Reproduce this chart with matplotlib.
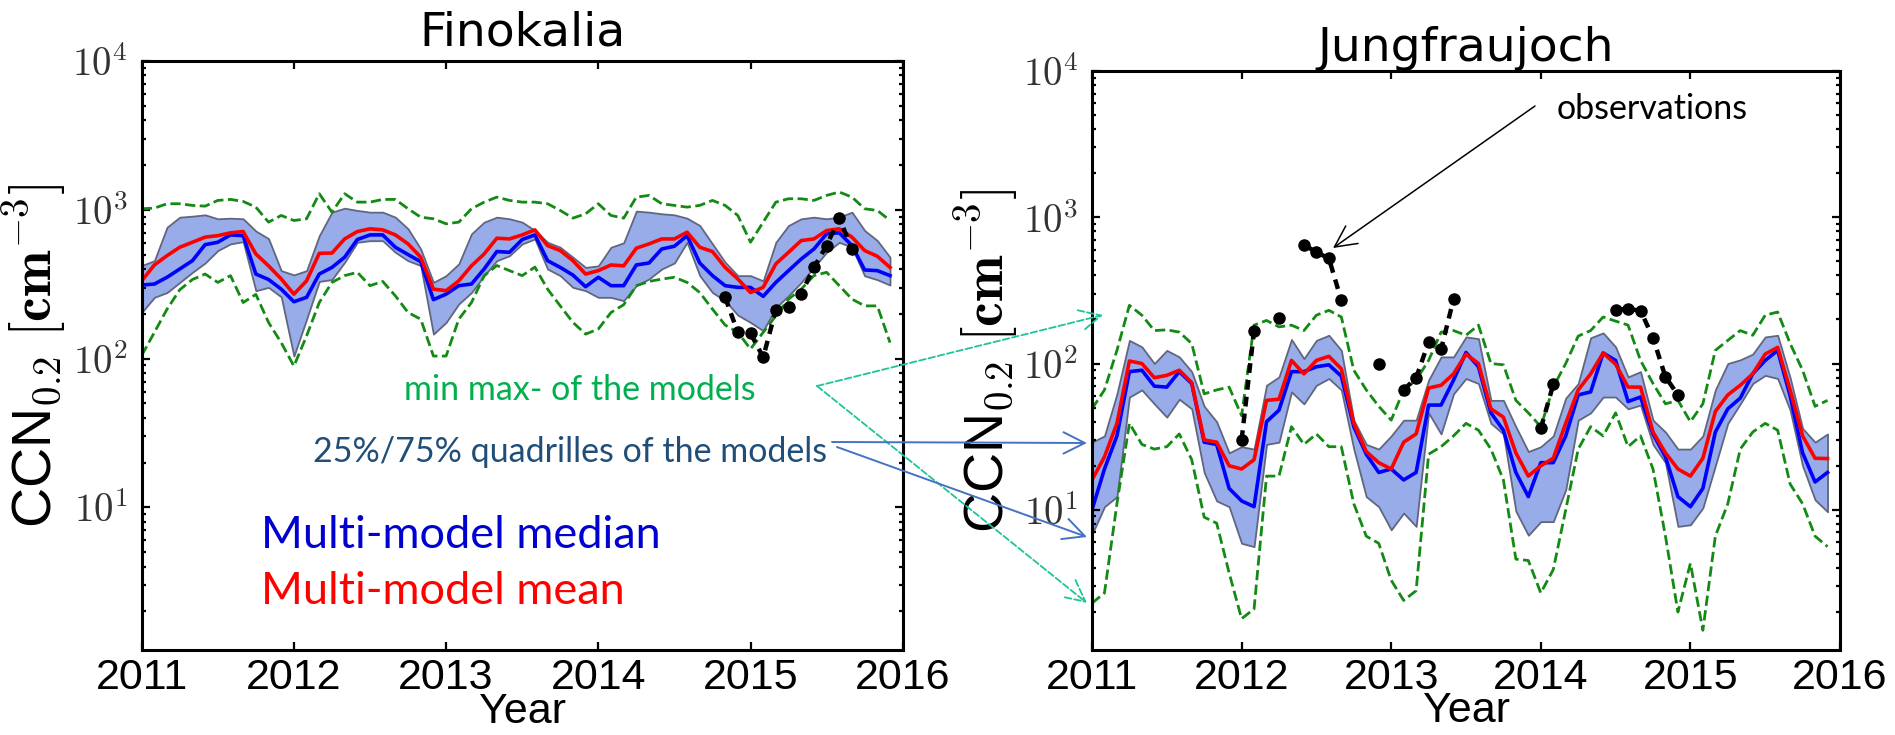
import numpy as np
import matplotlib
matplotlib.use('Agg')
import matplotlib.pyplot as plt
from matplotlib.patches import FancyArrowPatch
from matplotlib.ticker import FuncFormatter, LogLocator

plt.rcParams['mathtext.fontset'] = 'cm'

W, H = 1895, 735

# monthly values, Jan 2011 .. Dec 2015
months = 2011 + np.arange(60) / 12.0
nan = np.nan

# ---- Finokalia ----
fin_mean = [333, 426, 492, 560, 605, 655, 670, 700, 714, 505, 420, 343,
            271, 333, 510, 512, 637, 714, 745, 733, 678, 590, 480, 293,
            286, 333, 420, 505, 644, 637, 678, 733, 575, 532, 455, 370,
            390, 426, 420, 552, 590, 637, 637, 707, 560, 524, 410, 343,
            278, 301, 433, 518, 621, 637, 725, 745, 655, 532, 487, 410]
fin_median = [312, 317, 352, 400, 455, 583, 605, 678, 670, 370, 340, 293,
              241, 258, 370, 410, 480, 631, 678, 678, 560, 500, 448, 249,
              271, 309, 317, 400, 524, 518, 631, 678, 455, 410, 364, 304,
              352, 309, 309, 426, 439, 545, 569, 670, 439, 361, 309, 301,
              301, 262, 325, 390, 467, 545, 689, 700, 575, 394, 390, 361]
fin_q75 = [422, 455, 764, 892, 906, 925, 870, 878, 870, 720, 640, 390,
           365, 390, 670, 964, 1025, 990, 964, 964, 892, 745, 545, 325,
           361, 433, 689, 826, 892, 870, 826, 726, 605, 560, 480, 410,
           420, 560, 600, 980, 964, 940, 925, 878, 784, 590, 444, 361,
           361, 333, 605, 784, 870, 892, 870, 892, 964, 726, 621, 480]
fin_q25 = [204, 258, 278, 325, 380, 439, 532, 590, 611, 286, 301, 260,
           104, 184, 330, 340, 444, 605, 620, 620, 518, 455, 422, 146,
           175, 233, 278, 361, 455, 492, 590, 637, 400, 361, 301, 286,
           258, 258, 245, 309, 343, 400, 439, 605, 361, 278, 245, 196,
           175, 154, 220, 265, 325, 411, 518, 605, 560, 360, 339, 312]
fin_max = [1016, 1026, 1098, 1098, 1070, 1058, 1156, 1174, 1138, 1042, 826, 916,
           847, 870, 1282, 964, 1282, 1126, 1126, 1174, 1174, 1016, 892, 870,
           805, 826, 1016, 1126, 1217, 1156, 1126, 1126, 1098, 990, 879, 940,
           1098, 916, 879, 1217, 1249, 1098, 1070, 1042, 1070, 1156, 1070, 916,
           605, 826, 1126, 1186, 1186, 1156, 1249, 1316, 1217, 1016, 990, 847]
fin_min = [105, 150, 215, 290, 340, 370, 325, 361, 238, 270, 175, 128,
           89, 142, 238, 325, 361, 380, 309, 330, 264, 204, 184, 104,
           104, 184, 238, 361, 422, 390, 361, 412, 293, 226, 175, 146,
           158, 204, 230, 309, 330, 342, 352, 325, 278, 215, 168, 150,
           116, 150, 194, 251, 293, 361, 380, 309, 251, 226, 226, 128]
fin_obs = [nan] * 46 + [258, 150, 148, 102, 213, 221, 272, 410, 575, 880, 546] + [nan] * 3

# ---- Jungfraujoch ----
jfj_mean = [16, 23, 39, 104, 100, 80, 83, 90, 74, 30, 29, 20,
            19, 22, 56, 57, 105, 85, 105, 112, 92, 39, 25, 21,
            19, 29, 33, 68, 71, 85, 116, 100, 49, 43, 24.5, 17,
            20, 22.5, 39, 66, 85, 118, 99, 69, 69, 34, 24.5, 19,
            17, 22.5, 47, 61, 71, 85, 116, 129, 66, 32, 22.5, 22.4]
jfj_median = [10, 19, 32, 88, 90, 70, 69, 88, 73, 29, 28, 14,
              11.5, 10.5, 40, 48, 88, 88, 95, 98, 82, 37, 24, 18,
              19, 16, 18, 52, 52, 77, 119, 95, 46, 35, 18, 12.3,
              21, 21, 32, 61, 64, 118, 105, 55, 59, 33, 23, 12.3,
              10.5, 14, 34, 49, 58, 85, 105, 123, 60, 24.5, 15.5, 18]
jfj_q75 = [29, 32, 62, 144, 130, 100, 123, 111, 88, 51, 40, 24.5,
           27, 26, 71, 81, 146, 108, 144, 156, 123, 41, 28, 26,
           32, 41, 41, 77, 111, 111, 152, 148, 56, 56, 37, 25,
           27, 32, 58, 73, 150, 162, 130, 81, 88, 41, 34, 26,
           26, 32, 66, 100, 106, 116, 152, 156, 80, 36, 29, 33]
jfj_q25 = [6.8, 10.5, 12.3, 59, 66, 53, 43, 57, 49, 18, 11.5, 10.5,
           5.9, 5.6, 28, 29, 64, 53, 71, 79, 66, 26, 12.3, 10.5,
           7.3, 9.5, 7.7, 46, 33, 62, 79, 73, 39, 33, 9.8, 6.7,
           8.3, 8.3, 13.7, 41, 46, 59, 59, 49, 52, 28, 21, 7.7,
           7.9, 10.3, 20, 39, 53, 73, 83, 79, 48, 20, 11.7, 9.7]
jfj_max = [49, 66, 123, 250, 214, 168, 170, 164, 137, 62, 66, 69,
           44, 183, 197, 178, 183, 168, 214, 231, 208, 90, 66, 51,
           41, 66, 77, 105, 164, 168, 156, 183, 100, 98, 56, 46,
           37, 69, 100, 154, 168, 208, 195, 183, 105, 73, 53, 56,
           40, 53, 123, 144, 168, 156, 214, 225, 137, 90, 51, 56]
jfj_min = [2.3, 2.7, 11, 39, 28, 26, 27, 33, 22, 8.9, 8.1, 3.7,
           1.8, 2.1, 17, 17, 37, 28, 33, 27, 27, 11, 6.6, 5.9,
           3.3, 2.4, 2.8, 24, 27, 32, 39, 35, 26, 16, 4.6, 4.5,
           2.7, 3.9, 10, 26, 37, 32, 46, 27, 32, 19, 6.6, 2.0,
           4.3, 1.5, 6.6, 11, 26, 34, 39, 35, 15, 11, 6.6, 5.6]
jfj_obs = [nan] * 12 + [30, 168, nan, 205, nan, 650, 575, 525, 270, nan, nan, 100,
                        nan, 66, 80, 140, 125, 275] + [nan] * 6 + \
          [36, 72, nan, nan, nan, nan, 233, 236, 230, 150, 81, 61] + [nan] * 12

years = [2011, 2012, 2013, 2014, 2015, 2016]


def fig_xy(px, py):
    return (px / W, 1 - py / H)


def draw_panel(ax, title, mean, median, q25, q75, vmax, vmin, obs, title_y):
    ax.fill_between(months, q25, q75, facecolor='#98acea', edgecolor='#60667e', lw=1.3)
    ax.plot(months, vmax, '--', color='#138a13', lw=2.0)
    ax.plot(months, vmin, '--', color='#138a13', lw=2.0)
    ax.plot(months, median, color='#0000ff', lw=2.6)
    ax.plot(months, mean, color='#ff0000', lw=2.6)
    ax.plot(months, obs, color='k', ls='--', dashes=(2.2, 1.6), lw=3.2,
            marker='o', ms=8)

    ax.set_yscale('log')
    ax.set_ylim(1.1, 1e4)
    ax.set_xlim(2011, 2016)
    ax.set_xticks(years)
    ax.set_xticklabels([str(y) for y in years], fontsize=31, family='Liberation Sans')
    ax.yaxis.set_major_locator(LogLocator(base=10))
    ax.yaxis.set_minor_locator(LogLocator(base=10, subs=np.arange(2, 10)))
    ax.yaxis.set_major_formatter(FuncFormatter(lambda v, p: r'$10^{%d}$' % round(np.log10(v))))
    ax.tick_params(axis='y', which='major', labelsize=28, labelcolor='#333333', pad=10)
    ax.tick_params(which='both', direction='in', top=True, right=True, width=1.6)
    ax.tick_params(which='major', length=6)
    ax.tick_params(which='minor', length=3)
    ax.tick_params(axis='x', pad=6)
    for s in ax.spines.values():
        s.set_linewidth(2.2)

    ax.set_ylabel(r'CCN$_{0.2}$ $[\mathbf{cm^{-3}}]$', fontsize=40, family='Liberation Sans')
    ax.yaxis.set_label_coords(-0.094, 0.5)
    ax.set_xlabel('Year', fontsize=31, family='Liberation Sans')
    ax.xaxis.set_label_coords(0.5, -0.105)
    ax.xaxis.label.set_verticalalignment('center')
    ax.text(0.5, title_y, title, transform=ax.transAxes, ha='center', va='baseline',
            fontsize=34, family='DejaVu Sans')


fig = plt.figure(figsize=(W / 100, H / 100), dpi=100)
ax1 = fig.add_axes([141.7 / W, 1 - 650 / H, 761 / W, 589 / H])
ax2 = fig.add_axes([1092 / W, 1 - 650 / H, 748 / W, 579 / H])

draw_panel(ax1, 'Finokalia', fin_mean, fin_median, fin_q25, fin_q75,
           fin_max, fin_min, fin_obs, 1.027)
draw_panel(ax2, 'Jungfraujoch', jfj_mean, jfj_median, jfj_q25, jfj_q75,
           jfj_max, jfj_min, jfj_obs, 1.017)

# explanatory labels
txt_font = 'Lato'
fig.text(*fig_xy(404, 390), 'min max- of the models', color='#00b050',
         fontsize=24.5, family=txt_font, va='center')
fig.text(*fig_xy(313, 452), '25%/75% quadrilles of the models', color='#1f4e79',
         fontsize=24.5, family=txt_font, va='center')
fig.text(*fig_xy(261, 535), 'Multi-model median', color='#0000d0',
         fontsize=32.5, family=txt_font, va='center')
fig.text(*fig_xy(261, 591), 'Multi-model mean', color='#ff0000',
         fontsize=32.5, family=txt_font, va='center')
fig.text(*fig_xy(1557, 109), 'observations', color='black',
         fontsize=24.5, family=txt_font, va='center')


def fig_arrow(p0, p1, color, ls='-', lw=1.4):
    arr = FancyArrowPatch(fig_xy(*p0), fig_xy(*p1), transform=fig.transFigure,
                          arrowstyle='->,head_length=0.7,head_width=0.35',
                          mutation_scale=22, color=color, lw=lw, ls=ls,
                          shrinkA=0, shrinkB=0)
    fig.add_artist(arr)


fig_arrow((817, 386), (1103, 315), '#1dc49a', ls='--', lw=1.3)
fig_arrow((817, 386), (1087, 603), '#1dc49a', ls='--', lw=1.3)
fig_arrow((832, 442), (1087, 443), '#4472c4')
fig_arrow((837, 447), (1087, 537), '#4472c4')
fig_arrow((1535, 106), (1333, 248), 'black', lw=1.1)

fig.savefig('out.png', dpi=100)
